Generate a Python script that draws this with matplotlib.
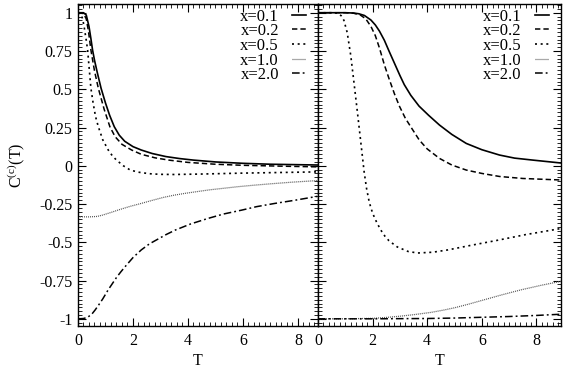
import matplotlib
matplotlib.use("Agg")
import matplotlib.pyplot as plt
from matplotlib.ticker import MultipleLocator, FixedFormatter, FixedLocator

plt.rcParams['font.family'] = ['Liberation Serif', 'DejaVu Serif']
plt.rcParams['mathtext.fontset'] = 'custom'
plt.rcParams['mathtext.rm'] = 'Liberation Serif'

labels = ['x=0.1', 'x=0.2', 'x=0.5', 'x=1.0', 'x=2.0']

# left panel
left_t01 = [0, 0.2, 0.3, 0.4, 0.47, 0.53, 0.6, 0.7, 0.84, 1.0, 1.15, 1.32, 1.5, 1.7, 2.0, 2.3,
            2.7, 3.2, 3.7, 4.2, 5.0, 6.0, 7.0, 8.7]
left_c01 = [1, 1, 0.985, 0.91, 0.83, 0.756, 0.69, 0.61, 0.506, 0.41, 0.33, 0.255, 0.2, 0.16,
            0.125, 0.103, 0.08, 0.06, 0.047, 0.037, 0.025, 0.016, 0.01, 0.005]
left_t02 = [0, 0.2, 0.3, 0.38, 0.47, 0.6, 0.74, 0.95, 1.16, 1.35, 1.6, 1.95, 2.3, 2.8, 3.3,
            4.0, 5.0, 6.0, 7.5, 8.7]
left_c02 = [1, 0.995, 0.96, 0.88, 0.756, 0.62, 0.506, 0.37, 0.255, 0.19, 0.14, 0.103, 0.075,
            0.052, 0.037, 0.022, 0.01, 0.003, -0.003, -0.007]
left_t05 = [0, 0.1, 0.17, 0.23, 0.3, 0.35, 0.41, 0.47, 0.55, 0.64, 0.74, 0.9, 1.1, 1.25, 1.4,
            1.65, 1.9, 2.2, 2.6, 3.0, 3.5, 4.5, 6.0, 8.7]
left_c05 = [1, 0.99, 0.96, 0.9, 0.82, 0.756, 0.63, 0.506, 0.41, 0.32, 0.255, 0.17, 0.103,
            0.065, 0.037, 0.0, -0.028, -0.042, -0.052, -0.056, -0.057, -0.054, -0.048, -0.04]
left_t10 = [0, 0.4, 0.7, 0.9, 1.2, 1.5, 1.9, 2.3, 2.7, 3.1, 3.5, 3.9, 4.4, 4.8, 5.3, 5.8,
            6.4, 7.0, 7.8, 8.7]
left_c10 = [-0.333, -0.334, -0.331, -0.322, -0.305, -0.287, -0.265, -0.246, -0.226, -0.207,
            -0.192, -0.18, -0.167, -0.157, -0.147, -0.137, -0.127, -0.118, -0.107, -0.097]
left_t20 = [0, 0.2, 0.35, 0.5, 0.62, 0.75, 0.9, 1.1, 1.25, 1.4, 1.55, 1.71, 2.0, 2.3, 2.6,
            2.9, 3.2, 3.54, 4.1, 4.73, 5.3, 5.95, 6.5, 7.16, 7.9, 8.7]
left_c20 = [-1, -0.998, -0.99, -0.97, -0.943, -0.91, -0.87, -0.81, -0.77, -0.73, -0.695,
            -0.66, -0.6, -0.55, -0.51, -0.48, -0.45, -0.42, -0.38, -0.344, -0.315, -0.29,
            -0.267, -0.246, -0.225, -0.20]

# right panel
right_t01 = [0, 1.0, 1.3, 1.5, 1.7, 1.94, 2.1, 2.25, 2.43, 2.6, 2.8, 3.0, 3.16, 3.4, 3.7,
             4.05, 4.45, 4.9, 5.43, 6.0, 6.65, 7.2, 7.87, 8.9]
right_c01 = [1, 1, 0.998, 0.993, 0.982, 0.952, 0.92, 0.88, 0.82, 0.75, 0.67, 0.59, 0.53,
             0.46, 0.39, 0.33, 0.266, 0.205, 0.146, 0.105, 0.07, 0.05, 0.037, 0.018]
right_t02 = [0, 1.0, 1.3, 1.55, 1.75, 1.94, 2.1, 2.25, 2.43, 2.6, 2.8, 2.98, 3.2, 3.45,
             3.71, 4.0, 4.45, 4.9, 5.43, 6.0, 6.65, 7.5, 8.9]
right_c02 = [1, 1, 0.997, 0.985, 0.96, 0.91, 0.85, 0.77, 0.66, 0.57, 0.47, 0.39, 0.31,
             0.24, 0.168, 0.11, 0.048, 0.005, -0.028, -0.05, -0.07, -0.083, -0.093]
right_t05 = [0, 0.6, 0.75, 0.85, 0.95, 1.07, 1.2, 1.32, 1.45, 1.57, 1.69, 1.78, 1.88, 2.0,
             2.15, 2.3, 2.45, 2.6, 2.9, 3.3, 3.65, 4.2, 4.75, 5.6, 6.6, 7.6, 8.9]
right_c05 = [1, 1, 0.995, 0.98, 0.95, 0.87, 0.72, 0.54, 0.34, 0.15, -0.04, -0.15, -0.24,
             -0.31, -0.37, -0.42, -0.46, -0.49, -0.53, -0.56, -0.57, -0.565, -0.55, -0.52,
             -0.486, -0.45, -0.41]
right_t10 = [0, 1.0, 2.0, 2.5, 3.0, 3.5, 4.14, 4.6, 5.0, 5.5, 6.0, 6.7, 7.45, 8.2, 8.9]
right_c10 = [-1, -1, -0.997, -0.991, -0.983, -0.973, -0.958, -0.943, -0.928, -0.905, -0.88,
             -0.845, -0.81, -0.78, -0.755]
right_t20 = [0, 2, 4, 5, 6, 7, 8, 8.9]
right_c20 = [-1, -1, -0.998, -0.995, -0.99, -0.985, -0.978, -0.97]

styles = [
    dict(color='black', lw=1.2, linestyle='-'),
    dict(color='black', lw=1.1, linestyle=(0, (3.5, 2))),
    dict(color='black', lw=1.2, linestyle=(0, (1.2, 2.2))),
    dict(color='#555555', lw=0.9, linestyle=(0, (0.8, 0.8))),
    dict(color='black', lw=1.1, linestyle=(0, (5, 2, 1.2, 2))),
]

W, H = 565, 371
fig = plt.figure(figsize=(W / 100, H / 100), dpi=100)
bot = 1 - 325.7 / H
hgt = (325.7 - 4) / H
ax1 = fig.add_axes([78 / W, bot, (318 - 78) / W, hgt])
ax2 = fig.add_axes([318 / W, bot, (561 - 318) / W, hgt])

left = [(left_t01, left_c01), (left_t02, left_c02), (left_t05, left_c05),
        (left_t10, left_c10), (left_t20, left_c20)]
right = [(right_t01, right_c01), (right_t02, right_c02), (right_t05, right_c05),
         (right_t10, right_c10), (right_t20, right_c20)]

for ax, data, xmax in [(ax1, left, 8.73), (ax2, right, 8.9)]:
    for (t, c), lab, st in zip(data, labels, styles):
        ax.plot(t, c, label=lab, **st)
    ax.set_xlim(0, xmax)
    ax.set_ylim(-1.045, 1.057)
    ax.xaxis.set_major_locator(MultipleLocator(2))
    ax.xaxis.set_minor_locator(MultipleLocator(0.2))
    ax.yaxis.set_major_locator(MultipleLocator(0.25))
    ax.yaxis.set_minor_locator(MultipleLocator(0.025))
    ax.tick_params(which='both', direction='in', top=True, right=True, labelsize=11.5)
    ax.tick_params(axis='x', pad=5)
    ax.tick_params(which='major', length=6, width=0.8)
    ax.tick_params(which='minor', length=3, width=0.6)
    for sp in ax.spines.values():
        sp.set_linewidth(1.0)
    ax.set_xlabel('T', fontsize=11.5, labelpad=3)
    ax.legend(loc='upper right', frameon=False, markerfirst=False, fontsize=12,
              handlelength=0.85, handletextpad=0.8, labelspacing=-0.08,
              borderpad=0, borderaxespad=0, bbox_to_anchor=(0.952, 0.986))

yt = [1, 0.75, 0.5, 0.25, 0, -0.25, -0.5, -0.75, -1]
ax1.yaxis.set_major_locator(FixedLocator(yt))
ax1.yaxis.set_major_formatter(FixedFormatter(['1', '0.75', '0.5', '0.25', '0', '-0.25',
                                              '-0.5', '-0.75', '-1']))
ax1.tick_params(axis='y', pad=4)
ax2.tick_params(labelleft=False)
ax1.set_ylabel(r'C$^{\rm (c)}$(T)', fontsize=11.5, labelpad=9)

fig.savefig('out.png', dpi=100)
